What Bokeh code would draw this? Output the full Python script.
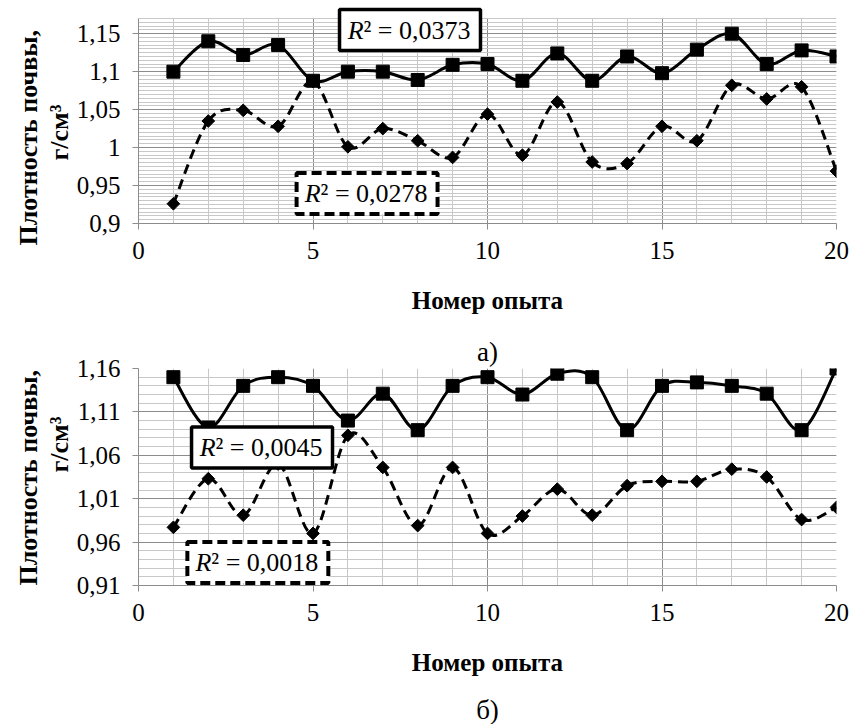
import numpy as np
from bokeh.plotting import figure
from bokeh.models import (FixedTicker, CustomJSTickFormatter, Label, Title, Range1d,
                          ColumnDataSource)
from bokeh.layouts import column
from bokeh.embed import file_html
from bokeh.resources import INLINE

# ---------------- data ----------------
experiments = list(range(1, 21))

a_solid = [1.100, 1.140, 1.122, 1.135, 1.088, 1.100, 1.100, 1.089, 1.109, 1.110,
           1.088, 1.124, 1.088, 1.120, 1.098, 1.129, 1.150, 1.110, 1.128, 1.120]
a_dashed = [0.926, 1.035, 1.049, 1.028, 1.087, 1.001, 1.025, 1.009, 0.987, 1.044,
            0.990, 1.060, 0.981, 0.979, 1.028, 1.009, 1.082, 1.064, 1.080, 0.969]

b_solid = [1.150, 1.092, 1.140, 1.150, 1.140, 1.100, 1.131, 1.089, 1.140, 1.150,
           1.130, 1.154, 1.150, 1.089, 1.140, 1.144, 1.140, 1.131, 1.089, 1.160]
b_dashed = [0.977, 1.033, 0.991, 1.050, 0.970, 1.083, 1.046, 0.979, 1.046, 0.970,
            0.990, 1.021, 0.991, 1.025, 1.030, 1.030, 1.044, 1.035, 0.986, 1.000]

a_yticks = [0.9, 0.95, 1.0, 1.05, 1.1, 1.15]
b_yticks = [0.91, 0.96, 1.01, 1.06, 1.11, 1.16]
x_ticks = [0, 5, 10, 15, 20]

a_r2_solid = "0,0373"
a_r2_dashed = "0,0278"
b_r2_solid = "0,0045"
b_r2_dashed = "0,0018"

y_title_1 = "Плотность почвы,"
y_title_2 = "г/см³"
x_title = "Номер опыта"
caption_a = "а)"
caption_b = "б)"

FONT = "Liberation Serif, Times New Roman, serif"
PAD_L = 24


def smooth_segments(xs, ys):
    """Bezier control points (Catmull-Rom style, like Excel's smoothed line)."""
    n = len(xs)
    d = dict(x0=[], y0=[], x1=[], y1=[], cx0=[], cy0=[], cx1=[], cy1=[])
    for i in range(n - 1):
        i0 = max(i - 1, 0)
        i3 = min(i + 2, n - 1)
        d["x0"].append(xs[i]); d["y0"].append(ys[i])
        d["x1"].append(xs[i + 1]); d["y1"].append(ys[i + 1])
        d["cx0"].append(xs[i] + (xs[i + 1] - xs[i0]) / 6.0)
        d["cy0"].append(ys[i] + (ys[i + 1] - ys[i0]) / 6.0)
        d["cx1"].append(xs[i + 1] - (xs[i3] - xs[i]) / 6.0)
        d["cy1"].append(ys[i + 1] - (ys[i3] - ys[i]) / 6.0)
    return ColumnDataSource(d)


def r2_box(p, x, y, val, dashed):
    box = Label(x=x, y=y, text="² = " + val, text_align="left", text_baseline="middle",
                text_font=FONT, text_font_size="26px", text_color="black",
                background_fill_color="white", border_line_color="black",
                border_line_width=4 if dashed else 3.5,
                border_line_dash="10 5" if dashed else "solid",
                padding=dict(left=PAD_L, right=10, top=6, bottom=6))
    r = Label(x=x, y=y, x_offset=PAD_L, text="R", text_align="right", text_baseline="middle",
              text_font=FONT, text_font_size="26px", text_font_style="italic",
              text_color="black")
    p.add_layout(box)
    p.add_layout(r)


def make_fig(solid, dashed, yticks, ymin, ymax, view_top, minor_step, frame_h, top_b,
             bottom_b, cap_above, cap_below, boxes, ytitle_offsets):
    p = figure(frame_width=698, frame_height=frame_h,
               x_range=Range1d(0, 20), y_range=Range1d(ymin, view_top),
               output_backend="svg", toolbar_location=None,
               min_border_left=138, min_border_right=15,
               min_border_top=top_b, min_border_bottom=bottom_b)
    p.outline_line_color = None
    p.background_fill_color = "white"

    xt = FixedTicker(ticks=x_ticks, minor_ticks=list(range(0, 21)))
    nminor = int(round((ymax - ymin) / minor_step))
    yt = FixedTicker(ticks=yticks,
                     minor_ticks=[round(ymin + minor_step * i, 4) for i in range(nminor + 1)])
    p.xaxis.ticker = xt
    p.yaxis.ticker = yt
    p.xgrid.ticker = xt
    p.ygrid.ticker = yt
    p.yaxis.bounds = (ymin, ymax)
    for g in (p.xgrid, p.ygrid):
        g.grid_line_color = "#8c8c8c"
        g.grid_line_width = 1
        g.minor_grid_line_color = "#c8c8c8"
        g.minor_grid_line_width = 1

    if view_top > ymax:
        xg = p.xgrid[0]
        if "cross_bounds" in xg.properties():
            xg.cross_bounds = (ymin, ymax)
        else:
            # white strip above the plotting area hides the grid there
            p.quad(left=[0], right=[20], bottom=[ymax + 0.0004], top=[view_top],
                   fill_color="white", line_color=None, level="underlay")

    fmt = CustomJSTickFormatter(code="return (Math.round(tick*1000)/1000).toString().replace('.', ',');")
    p.yaxis.formatter = fmt
    for ax in (p.xaxis, p.yaxis):
        ax.axis_line_color = "#8c8c8c"
        ax.major_tick_line_color = "#8c8c8c"
        ax.major_tick_out = 6
        ax.major_tick_in = 0
        ax.minor_tick_line_color = None
        ax.major_label_text_font = FONT
        ax.major_label_text_font_size = "25px"
        ax.major_label_text_color = "black"
    p.yaxis.major_label_standoff = 12
    p.xaxis.major_label_standoff = 12

    p.xaxis.axis_label = x_title
    p.xaxis.axis_label_text_font = FONT
    p.xaxis.axis_label_text_font_size = "25px"
    p.xaxis.axis_label_text_font_style = "bold"
    p.xaxis.axis_label_text_color = "black"
    p.xaxis.axis_label_standoff = 25

    t2 = Title(text=y_title_2, align="left", text_font=FONT, text_font_size="26px",
               text_font_style="bold", text_color="black", standoff=0,
               offset=ytitle_offsets[1])
    t1 = Title(text=y_title_1, align="left", text_font=FONT, text_font_size="26px",
               text_font_style="bold", text_color="black", standoff=0,
               offset=ytitle_offsets[0])
    p.add_layout(t2, "left")
    p.add_layout(t1, "left")

    if cap_above:
        p.add_layout(Title(text=cap_above, align="center", text_font=FONT,
                           text_font_size="27px", text_font_style="normal",
                           text_color="black", standoff=4), "above")
    if cap_below:
        p.add_layout(Title(text=cap_below, align="center", text_font=FONT,
                           text_font_size="27px", text_font_style="normal",
                           text_color="black", standoff=29), "below")

    src_s = smooth_segments(experiments, solid)
    src_d = smooth_segments(experiments, dashed)
    p.bezier(x0="x0", y0="y0", x1="x1", y1="y1", cx0="cx0", cy0="cy0", cx1="cx1",
             cy1="cy1", source=src_s, line_color="black", line_width=3)
    p.bezier(x0="x0", y0="y0", x1="x1", y1="y1", cx0="cx0", cy0="cy0", cx1="cx1",
             cy1="cy1", source=src_d, line_color="black", line_width=3, line_dash="10 6")
    p.scatter(experiments, solid, marker="square", size=13, color="black")
    p.scatter(experiments, dashed, marker="square", size=9, angle=np.pi / 4, color="black")

    for (bx, by, val, dashed_box) in boxes:
        r2_box(p, bx, by, val, dashed_box)
    return p


# top chart: frame extended 13 px above 1.17 so the R² box is not clipped
p1 = make_fig(a_solid, a_dashed, a_yticks, 0.9, 1.17, 1.17 + 13 / 759.3, 0.005, 218, 5, 105,
              None, None,
              [(5.76, 1.1548, a_r2_solid, False), (4.53, 0.9395, a_r2_dashed, True)],
              (-22, 63))
p2 = make_fig(b_solid, b_dashed, b_yticks, 0.91, 1.16, 1.16, 0.01, 217, 40, 139,
              caption_a, caption_b,
              [(1.52, 1.069, b_r2_solid, False), (1.40, 0.9365, b_r2_dashed, True)],
              (0, 113))

layout = column(p1, p2, spacing=0)
open("out.html", "w").write(file_html(layout, INLINE))
